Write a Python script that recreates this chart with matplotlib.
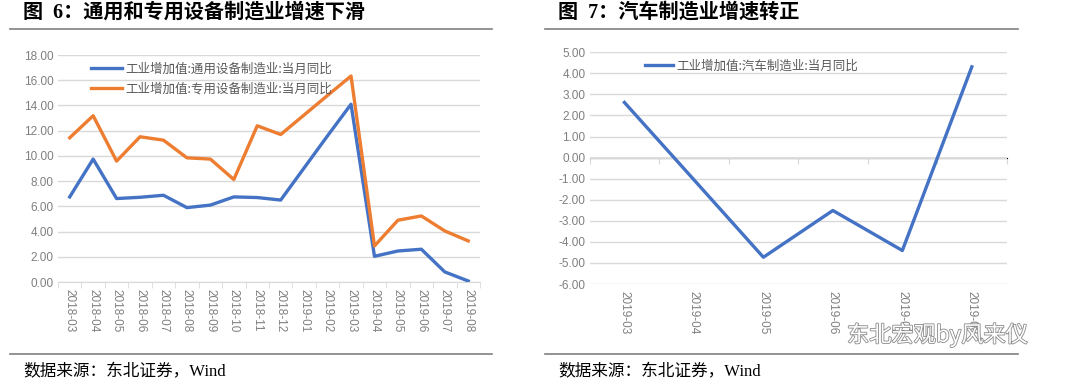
import matplotlib.pyplot as plt
import matplotlib.patheffects as pe
from matplotlib.lines import Line2D

plt.rcParams['font.family'] = ['Noto Sans CJK SC', 'DejaVu Sans']

# ===== data =====
months_left = ["2018-03", "2018-04", "2018-05", "2018-06", "2018-07", "2018-08",
               "2018-09", "2018-10", "2018-11", "2018-12", "2019-01", "2019-02",
               "2019-03", "2019-04", "2019-05", "2019-06", "2019-07", "2019-08"]
general_equip = [6.75, 9.75, 6.62, 6.72, 6.88, 5.90, 6.10, 6.75, 6.70, 6.50,
                 9.05, 11.60, 14.10, 2.04, 2.46, 2.60, 0.80, 0.08]
special_equip = [11.44, 13.19, 9.59, 11.52, 11.25, 9.85, 9.75, 8.13, 12.39, 11.70,
                 13.25, 14.80, 16.34, 2.86, 4.90, 5.24, 4.05, 3.26]

months_right = ["2019-03", "2019-04", "2019-05", "2019-06", "2019-07", "2019-08"]
auto_mfg = [2.62, -1.05, -4.73, -2.51, -4.41, 4.31]

label_general = "工业增加值:通用设备制造业:当月同比"
label_special = "工业增加值:专用设备制造业:当月同比"
label_auto = "工业增加值:汽车制造业:当月同比"

BLUE = "#4472C4"
ORANGE = "#ED7D31"
GRID = "#D9D9D9"
TICK = "#7F7F7F"

fig = plt.figure(figsize=(10.8, 3.84), dpi=100)


def style_axes(ax, n):
    ax.set_xlim(-0.5, n - 0.5)
    ax.grid(axis="y", color=GRID, linewidth=1.0)
    ax.set_axisbelow(True)
    for s in ["top", "right", "left"]:
        ax.spines[s].set_visible(False)
    ax.tick_params(axis="y", length=0, labelsize=8.5, labelcolor=TICK, pad=3)
    ax.tick_params(axis="x", length=0, labelsize=8.5, labelcolor=TICK, pad=5)
    ax.yaxis.set_major_formatter(plt.FormatStrFormatter("%.2f"))
    for t in ax.get_yticklabels():
        t.set_family(["Liberation Sans", "DejaVu Sans"])


# ===== left chart =====
ax1 = fig.add_axes([0.0537, 0.2656, 0.3907, 0.591])
x1 = range(len(months_left))
ax1.plot(x1, general_equip, color=BLUE, linewidth=2.4, label=label_general)
ax1.plot(x1, special_equip, color=ORANGE, linewidth=2.4, label=label_special)
ax1.set_ylim(0, 18)
ax1.set_yticks([0, 2, 4, 6, 8, 10, 12, 14, 16, 18])
ax1.set_xticks(list(x1))
ax1.set_xticklabels(months_left, rotation=270, family=["Liberation Sans", "DejaVu Sans"])
style_axes(ax1, len(months_left))
ax1.spines["bottom"].set_color(GRID)
ax1.set_xticks([i - 0.5 for i in range(len(months_left) + 1)], minor=True)
ax1.tick_params(axis="x", which="minor", length=4, color=GRID, direction="out")
ax1.legend(loc="upper left", bbox_to_anchor=(0.06, 1.0), frameon=False,
           fontsize=9, handlelength=2.5, handletextpad=0.3, labelspacing=0.55,
           labelcolor="#595959", borderaxespad=0.2)

# ===== right chart =====
ax2 = fig.add_axes([0.546, 0.2604, 0.386, 0.6034])
x2 = range(len(months_right))
ax2.plot(x2, auto_mfg, color=BLUE, linewidth=2.4, label=label_auto)
ax2.set_ylim(-6, 5)
ax2.set_yticks(list(range(-6, 6)))
ax2.set_xticks(list(x2))
ax2.set_xticklabels(months_right, rotation=270, family=["Liberation Sans", "DejaVu Sans"])
style_axes(ax2, len(months_right))
ax2.spines["bottom"].set_visible(False)
ax2.axhline(0, color=GRID, linewidth=1.2, zorder=1)
sec = ax2.secondary_xaxis(6 / 11)
sec.set_xticks([i - 0.5 for i in range(len(months_right) + 1)])
sec.set_xticklabels([])
sec.tick_params(length=4, color=GRID, direction="in")
sec.spines["bottom"].set_visible(False)
ax2.legend(loc="upper left", bbox_to_anchor=(0.115, 1.0), frameon=False,
           fontsize=9, handlelength=2.2, handletextpad=0.3,
           labelcolor="#595959", borderaxespad=0.2)

# ===== titles, rules, source =====
title_font = ["Liberation Serif", "Noto Sans CJK SC"]
fig.text(23 / 1080, 0.966, "图  6：通用和专用设备制造业增速下滑", fontsize=14.5,
         fontweight="bold", family=title_font, va="center", ha="left")
fig.text(558 / 1080, 0.966, "图  7：汽车制造业增速转正", fontsize=14.5,
         fontweight="bold", family=title_font, va="center", ha="left")

for x0, x1_ in [(10, 492), (545, 1018)]:
    for yy in (1 - 29 / 384, 1 - 354 / 384):
        fig.add_artist(Line2D([x0 / 1080, x1_ / 1080], [yy, yy], color="#808080",
                              linewidth=1.2, transform=fig.transFigure))

fig.text(23 / 1080, 0.031, "数据来源：东北证券，Wind", fontsize=12,
         family=title_font, va="center", ha="left")
fig.text(558 / 1080, 0.031, "数据来源：东北证券，Wind", fontsize=12,
         family=title_font, va="center", ha="left")

# watermark
fig.text(1028 / 1080, 1 - 335 / 384, "东北宏观by风来仪", fontsize=16, color="white",
         ha="right", va="center",
         path_effects=[pe.withStroke(linewidth=1.2, foreground="#8a8a8a")])

plt.savefig("out.png", dpi=100)
